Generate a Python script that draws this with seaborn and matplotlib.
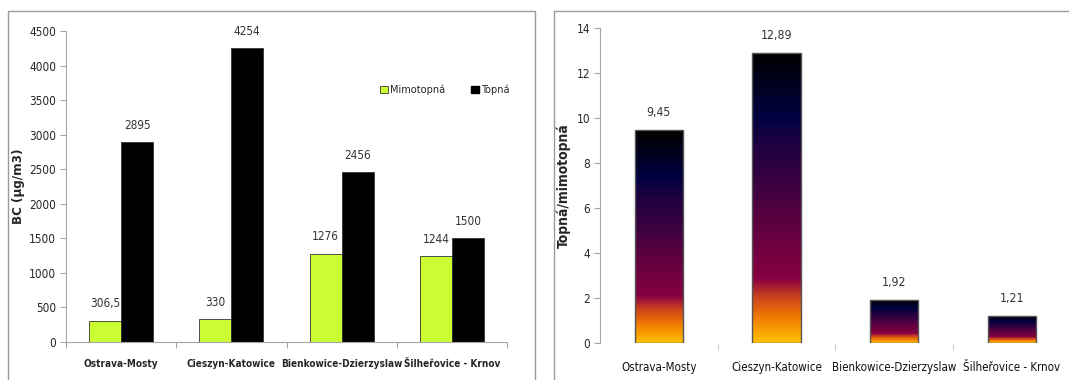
import numpy as np
import pandas as pd
import matplotlib
matplotlib.use("Agg")
import matplotlib.pyplot as plt
from matplotlib.colors import LinearSegmentedColormap
from matplotlib.patches import Rectangle, Patch
import seaborn as sns

# --- data -------------------------------------------------------------
stations = ["Ostrava-Mosty", "Cieszyn-Katowice", "Bienkowice-Dzierzyslaw", "Šilheřovice - Krnov"]
seasons = ["Mimotopná", "Topná"]
bc_mimotopna = [306.5, 330, 1276, 1244]
bc_topna = [2895, 4254, 2456, 1500]
bc_labels_mimo = ["306,5", "330", "1276", "1244"]
bc_labels_top = ["2895", "4254", "2456", "1500"]
ratio = [9.45, 12.89, 1.92, 1.21]
ratio_labels = ["9,45", "12,89", "1,92", "1,21"]
left_yticks = [0, 500, 1000, 1500, 2000, 2500, 3000, 3500, 4000, 4500]
right_yticks = [0, 2, 4, 6, 8, 10, 12, 14]

sns.set_theme(style="white")
plt.rcParams["font.family"] = ["DejaVu Sans"]
plt.rcParams["font.stretch"] = "condensed"
COND = dict(family="DejaVu Sans", stretch="condensed")

AXC = "#a6a6a6"
TXT = "#262626"

fig = plt.figure(figsize=(10.69, 3.8), dpi=100)

# panel frames
fig.patches.append(Rectangle((8 / 1069, -0.1), (535 - 8) / 1069, 1.1 - 11 / 380,
                             transform=fig.transFigure, fill=False, edgecolor="#9a9a9a", lw=1.0))
fig.patches.append(Rectangle((554 / 1069, -0.1), 0.6, 1.1 - 11 / 380,
                             transform=fig.transFigure, fill=False, edgecolor="#9a9a9a", lw=1.0))

# --- left: BC concentrations -----------------------------------------
axL = fig.add_axes([66 / 1069, 1 - 342 / 380, (507 - 66) / 1069, (342 - 31) / 380])
df = pd.DataFrame({
    "station": stations * 2,
    "season": [seasons[0]] * 4 + [seasons[1]] * 4,
    "bc": bc_mimotopna + bc_topna,
})
sns.barplot(data=df, x="station", y="bc", hue="season", order=stations, hue_order=seasons,
            palette=["#ccff33", "#000000"], width=0.58, gap=0, edgecolor="#333333",
            linewidth=0.6, saturation=1, ax=axL, legend=False, errorbar=None)
axL.set_ylim(0, 4500)
axL.set_xlim(-0.5, 3.5)
axL.set_yticks(left_yticks)
axL.set_yticklabels([str(v) for v in left_yticks], fontsize=8.5, color=TXT, **COND)
axL.set_xticks(range(4))
axL.set_xticklabels(stations, fontsize=7.2, fontweight="bold", color=TXT, **COND)
axL.set_xticks([-0.5, 0.5, 1.5, 2.5, 3.5], minor=True)
axL.tick_params(axis="x", which="major", length=0, pad=12)
axL.tick_params(axis="x", which="minor", length=4, width=0.8, color=AXC, direction="out", bottom=True)
axL.tick_params(axis="y", length=4, width=0.8, color=AXC, direction="out", left=True, pad=3)
for s in ["top", "right"]:
    axL.spines[s].set_visible(False)
for s in ["left", "bottom"]:
    axL.spines[s].set_color(AXC)
    axL.spines[s].set_linewidth(0.8)
axL.set_xlabel("")
axL.set_ylabel("BC (µg/m3)", fontsize=9.5, fontweight="bold", family="DejaVu Sans", color=TXT)
axL.yaxis.set_label_coords(-0.093, 0.5)

# value labels above each bar
bars = sorted(axL.patches, key=lambda p: p.get_x())
labels_in_order = []
for i in range(4):
    labels_in_order += [bc_labels_mimo[i], bc_labels_top[i]]
for p, lab in zip(bars, labels_in_order):
    axL.text(p.get_x() + p.get_width() / 2, p.get_height() + 150, lab,
             ha="center", va="bottom", fontsize=8.5, color="#333333", **COND)

handles = [Patch(facecolor="#ccff33", edgecolor="#333333", lw=0.6),
           Patch(facecolor="#000000", edgecolor="#000000")]
axL.legend(handles, seasons, loc="center left", bbox_to_anchor=(0.69, 0.81), ncol=2, frameon=False,
           handlelength=0.7, handleheight=0.7, handletextpad=0.2, columnspacing=2.4,
           prop=dict(family="DejaVu Sans", stretch="condensed", size=7.8))

# --- right: heating / non-heating ratio -------------------------------
axR = fig.add_axes([600 / 1069, 1 - 343 / 380, 4 * 117.7 / 1069, (343 - 28) / 380])
sns.barplot(x=stations, y=ratio, order=stations, color="#000000", width=0.41,
            edgecolor="#555555", linewidth=1.0, saturation=1, ax=axR, errorbar=None)
axR.set_ylim(0, 14)
axR.set_xlim(-0.5, 3.5)

# vertical fill running from amber at the base to black at the top of each bar
grad = LinearSegmentedColormap.from_list("heat", [
    (0.00, "#ffc000"), (0.09, "#f07800"), (0.16, "#c84020"), (0.22, "#880040"),
    (0.40, "#600040"), (0.55, "#3a0040"), (0.68, "#200040"), (0.78, "#000040"),
    (1.00, "#000000")])
column = np.linspace(0, 1, 256).reshape(-1, 1)
for p in axR.patches:
    x0, w, h = p.get_x(), p.get_width(), p.get_height()
    im = axR.imshow(column, cmap=grad, origin="lower", aspect="auto",
                    extent=(x0, x0 + w, 0, h), zorder=p.get_zorder() - 0.1)
    im.set_clip_path(p)
    p.set_facecolor("none")
for i, p in enumerate(axR.patches):
    axR.text(p.get_x() + p.get_width() / 2, p.get_height() + 0.5, ratio_labels[i],
             ha="center", va="bottom", fontsize=8.8, color="#333333", **COND)
axR.set_xlim(-0.5, 3.5)
axR.set_ylim(0, 14)

axR.set_yticks(right_yticks)
axR.set_yticklabels([str(v) for v in right_yticks], fontsize=8.5, color=TXT, **COND)
axR.set_xticks(range(4))
axR.set_xticklabels(stations, fontsize=8.3, color="#111111", **COND)
axR.set_xticks([0.5, 1.5, 2.5], minor=True)
axR.tick_params(axis="x", which="major", length=0, pad=13)
axR.tick_params(axis="x", which="minor", length=5, width=0.8, color="#cccccc", direction="out", bottom=True)
axR.tick_params(axis="y", length=4, width=0.8, color=AXC, direction="out", left=True, pad=3)
for s in ["top", "right", "bottom"]:
    axR.spines[s].set_visible(False)
axR.spines["left"].set_color(AXC)
axR.spines["left"].set_linewidth(0.8)
axR.set_ylabel("Topná/mimotopná", fontsize=10, fontweight="bold", family="DejaVu Sans", color=TXT)
axR.yaxis.set_label_coords(-0.062, 0.5)

fig.savefig("out.png", dpi=100, facecolor="white")
